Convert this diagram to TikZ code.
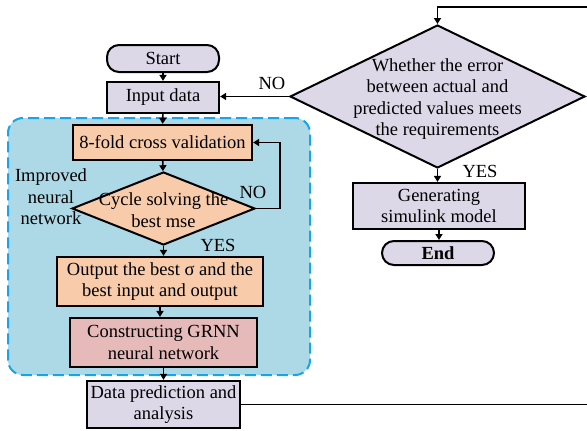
\documentclass[tikz,border=0pt]{standalone}
\usepackage{fontspec}
\setmainfont{Liberation Serif}
\usepackage{tikz}
\usetikzlibrary{arrows.meta, positioning, shapes.geometric, calc}
\definecolor{lavfill}{RGB}{221,216,232}
\definecolor{peachfill}{RGB}{248,203,170}
\definecolor{pinkfill}{RGB}{230,186,184}
\definecolor{regionfill}{RGB}{173,216,230}
\definecolor{regionline}{RGB}{20,165,235}

\begin{document}
\begin{tikzpicture}[
  x=1pt, y=-1pt,
  every node/.style={font=\fontsize{18.5}{21.5}\selectfont},
  terminal/.style={draw=black, line width=2pt, rounded corners=12pt,
                   fill=lavfill, inner sep=0pt},
  stepbox/.style={draw=black, line width=2.2pt, inner sep=0pt, align=center},
  decision/.style={diamond, draw=black, line width=2pt, inner sep=0pt},
  region/.style={draw=regionline, fill=regionfill, line width=2pt,
                 dash pattern=on 11pt off 5pt, rounded corners=15pt},
  flow/.style={-{Triangle[length=6pt, width=7pt]}, line width=1.6pt}
]
  \clip (0,0) rectangle (587,431);

  % improved network region
  \node[region, minimum width=302pt, minimum height=257pt] (improved) at (159,246.5) {};
  \node[align=center] (improvedtxt) at (51,197) {Improved\\neural\\network};

  % left column
  \node[terminal, minimum width=112pt, minimum height=27pt] (start) at (163,58.5) {Start};
  \node[stepbox, fill=lavfill, minimum width=112pt, minimum height=31pt] (input) at (163,97.5) {Input data};
  \node[stepbox, fill=peachfill, minimum width=179pt, minimum height=35pt] (fold) at (162.5,142.5) {8-fold cross validation};
  \node[decision, fill=peachfill, minimum width=183pt, minimum height=73pt] (cyc) at (163.5,208.5) {};
  \node[align=center] (cyctxt) at (163.5,210) {Cycle solving the\\best mse};
  \node[stepbox, fill=peachfill, minimum width=206pt, minimum height=49pt] (outp) at (160,281.5)
    {Output the best σ and the\\best input and output};
  \node[stepbox, fill=pinkfill, minimum width=187pt, minimum height=49pt] (grnn) at (163.5,342.5)
    {Constructing GRNN\\neural network};
  \node[stepbox, fill=lavfill, minimum width=153pt, minimum height=47pt] (pred) at (163.5,404.5)
    {Data prediction and\\analysis};

  % right column
  \node[decision, fill=lavfill, minimum width=295pt, minimum height=143pt] (big) at (437.5,96.5) {};
  \node[align=center] (bigtxt) at (437.5,99) {Whether the error\\between actual and\\predicted values meets\\the requirements};
  \node[stepbox, fill=lavfill, minimum width=172pt, minimum height=46pt] (gen) at (439,206)
    {Generating\\simulink model};
  \node[terminal, minimum width=112pt, minimum height=24pt] (end) at (438,253) {\textbf{End}};

  % labels
  \node (no1) at (253,192) {NO};
  \node (yes1) at (218,245) {YES};
  \node (no2) at (272,83) {NO};
  \node (yes2) at (480,171) {YES};

  % connectors
  \coordinate (loopR) at (600,0);
  \coordinate (loopT) at (0,7);
  \draw[flow] (start) -- (input);
  \draw[flow] (input) -- (fold);
  \draw[flow] (fold) -- (cyc);
  \draw[flow] (cyc.east) -- ++(24,0) |- (fold.east);
  \draw[flow] (cyc.south) -- (cyc.south |- outp.north);
  \draw[flow] (outp.south) -- (outp.south |- grnn.north);
  \draw[flow] (grnn) -- (pred);
  \draw[flow] (pred.east) -- (pred.east -| loopR) |- (big.north |- loopT) -- (big.north);
  \draw[flow] (big.west) -- (big.west -| input.east);
  \draw[flow] (big.south) -- (big.south |- gen.north);
  \draw[flow] (gen.south) -- (gen.south |- end.north);
\end{tikzpicture}
\end{document}
